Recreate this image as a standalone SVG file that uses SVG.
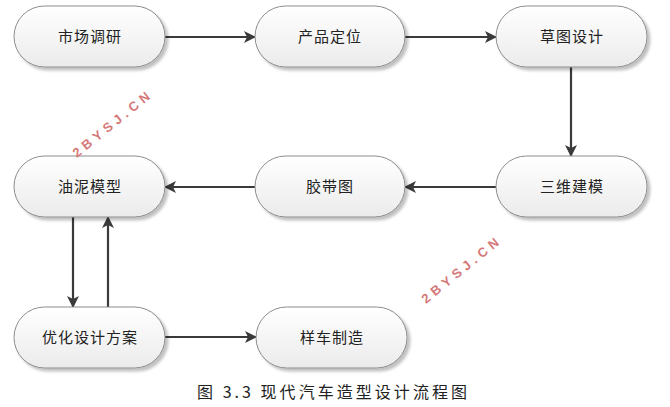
<svg xmlns="http://www.w3.org/2000/svg" width="670" height="407" viewBox="0 0 670 407">
<defs>
<linearGradient id="g" x1="0" y1="0" x2="0" y2="1">
<stop offset="0" stop-color="#ffffff"/>
<stop offset="1" stop-color="#ebebeb"/>
</linearGradient>
<filter id="sh" x="-10%" y="-10%" width="130%" height="140%">
<feGaussianBlur in="SourceAlpha" stdDeviation="1.5"/>
<feOffset dx="3" dy="3" result="b"/>
<feComponentTransfer><feFuncA type="linear" slope="0.25"/></feComponentTransfer>
<feMerge><feMergeNode/><feMergeNode in="SourceGraphic"/></feMerge>
</filter>
<marker id="ah" markerWidth="12" markerHeight="12" viewBox="0 0 12 12" refX="11" refY="6" orient="auto" markerUnits="userSpaceOnUse">
<path d="M0,0 L12,6 L0,12 L3,6 Z" fill="#3a3a3a"/>
</marker>
</defs>
<style>
.box{fill:url(#g);stroke:#8c8c8c;stroke-width:1;filter:url(#sh)}
.lbl{font-family:"Noto Sans CJK SC",sans-serif;font-size:15px;fill:#222;text-anchor:middle;letter-spacing:1px}
.c{stroke:#3a3a3a;stroke-width:2.2;fill:none;marker-end:url(#ah)}
.wm{font-family:"Liberation Sans",Arial,sans-serif;font-size:13px;font-weight:bold;fill:#d47878;letter-spacing:4.5px}
.cap{font-family:"Noto Sans CJK SC",serif;font-size:16px;fill:#222;text-anchor:middle}
</style>
<rect width="670" height="407" fill="#ffffff"/>
<g id="connectors">
<line class="c" x1="165" y1="37" x2="255" y2="37"/>
<line class="c" x1="405" y1="37" x2="496" y2="37"/>
<line class="c" x1="571" y1="67" x2="571" y2="156"/>
<line class="c" x1="496" y1="187" x2="405" y2="187"/>
<line class="c" x1="255" y1="187" x2="165" y2="187"/>
<line class="c" x1="73" y1="217" x2="73" y2="307"/>
<line class="c" x1="108" y1="307" x2="108" y2="217"/>
<line class="c" x1="165" y1="337" x2="256" y2="337"/>
</g>
<g id="n1"><rect class="box" x="14" y="6" width="151" height="61" rx="30.5"/><text class="lbl" x="90" y="42">市场调研</text></g>
<g id="n2"><rect class="box" x="255" y="6" width="150" height="61" rx="30.5"/><text class="lbl" x="330" y="42">产品定位</text></g>
<g id="n3"><rect class="box" x="496" y="6" width="151" height="61" rx="30.5"/><text class="lbl" x="572" y="42">草图设计</text></g>
<g id="n4"><rect class="box" x="14" y="156" width="151" height="61" rx="30.5"/><text class="lbl" x="90" y="192">油泥模型</text></g>
<g id="n5"><rect class="box" x="255" y="156" width="150" height="61" rx="30.5"/><text class="lbl" x="330" y="192">胶带图</text></g>
<g id="n6"><rect class="box" x="496" y="156" width="151" height="61" rx="30.5"/><text class="lbl" x="572" y="192">三维建模</text></g>
<g id="n7"><rect class="box" x="14" y="307" width="151" height="61" rx="30.5"/><text class="lbl" x="90" y="343">优化设计方案</text></g>
<g id="n8"><rect class="box" x="256" y="307" width="151" height="61" rx="30.5"/><text class="lbl" x="332" y="343">样车制造</text></g>
<text class="wm" transform="translate(77,158) rotate(-39)">2BYSJ.CN</text>
<text class="wm" transform="translate(426,304) rotate(-39)">2BYSJ.CN</text>
<text class="cap" x="332" y="398" textLength="270" lengthAdjust="spacing">图 3.3 现代汽车造型设计流程图</text>
</svg>
